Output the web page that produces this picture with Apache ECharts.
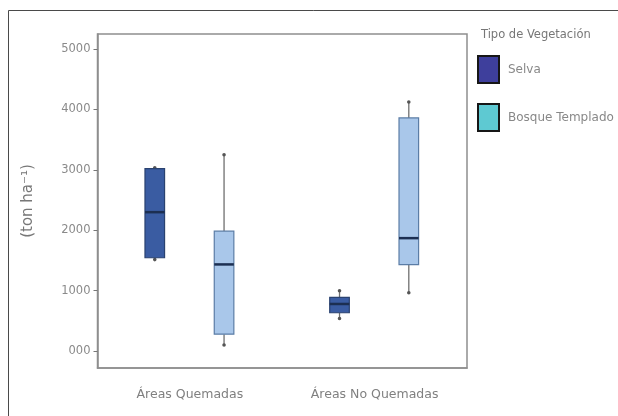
<!DOCTYPE html>
<html>
<head>
<meta charset="utf-8">
<script src="https://cdn.jsdelivr.net/npm/echarts@6/dist/echarts.min.js"></script>
<style>html,body{margin:0;padding:0;background:#fff}#c{width:618px;height:416px}</style>
</head>
<body>
<div id="c"></div>
<script>
const categories = ['Áreas Quemadas', 'Áreas No Quemadas'];
const seriesNames = ['Selva', 'Bosque Templado'];
// [categoryIndex, min, Q1, median, Q3, max]
const selvaBoxes = [
  [0, 1515, 1545, 2300, 3020, 3035],
  [1, 540, 635, 780, 890, 1000]
];
const bosqueBoxes = [
  [0, 100, 280, 1435, 1985, 3250],
  [1, 965, 1430, 1870, 3860, 4125]
];
const tickValues = [0, 1000, 2000, 3000, 4000, 5000];
const tickLabels = ['000', '1000', '2000', '3000', '4000', '5000'];

const FONT = '"DejaVu Sans", sans-serif';

function makeRender(offset, fill, border) {
  return function (params, api) {
    const cat = api.value(0);
    const band = api.size([1, 0])[0];
    const xc = api.coord([cat, 0])[0] + offset * band;
    const w = 0.106 * band;
    const yMin = api.coord([cat, api.value(1)])[1];
    const yQ1 = api.coord([cat, api.value(2)])[1];
    const yMed = api.coord([cat, api.value(3)])[1];
    const yQ3 = api.coord([cat, api.value(4)])[1];
    const yMax = api.coord([cat, api.value(5)])[1];
    const wh = {stroke: '#707070', lineWidth: 1.3};
    return {
      type: 'group',
      children: [
        {type: 'line', shape: {x1: xc, y1: yQ3, x2: xc, y2: yMax}, style: wh},
        {type: 'line', shape: {x1: xc, y1: yQ1, x2: xc, y2: yMin}, style: wh},
        {type: 'circle', shape: {cx: xc, cy: yMax, r: 1.8}, style: {fill: '#555'}},
        {type: 'circle', shape: {cx: xc, cy: yMin, r: 1.8}, style: {fill: '#555'}},
        {type: 'rect', shape: {x: xc - w / 2, y: yQ3, width: w, height: yQ1 - yQ3},
          style: {fill: fill, stroke: border, lineWidth: 1.2}},
        {type: 'line', shape: {x1: xc - w / 2, y1: yMed, x2: xc + w / 2, y2: yMed},
          style: {stroke: '#1c2f52', lineWidth: 2.5}}
      ]
    };
  };
}

const chart = echarts.init(document.getElementById('c'));
chart.setOption({
  animation: false,
  backgroundColor: '#fff',
  textStyle: {fontFamily: FONT},
  graphic: [{
    type: 'rect', silent: true,
    shape: {x: 8.5, y: 10.5, width: 700, height: 500},
    style: {fill: 'none', stroke: '#4a4a4a', lineWidth: 1}
  }],
  title: {
    text: 'Tipo de Vegetación', left: 476, top: 24,
    textStyle: {fontSize: 11.5, fontWeight: 'normal', color: '#777', fontFamily: FONT}
  },
  legend: {
    orient: 'vertical', left: 472, top: 50,
    itemWidth: 21, itemHeight: 27, itemGap: 19,
    icon: 'rect',
    textStyle: {fontSize: 12, color: '#888', fontFamily: FONT, padding: [0, 0, 0, 4]},
    data: [
      {name: seriesNames[0], itemStyle: {color: '#3e3f9c', borderColor: '#161616', borderWidth: 2}},
      {name: seriesNames[1], itemStyle: {color: '#5ec9d2', borderColor: '#161616', borderWidth: 2}}
    ]
  },
  grid: {left: 97.5, right: 151, top: 34, bottom: 48, show: true, borderColor: '#8e8e8e', borderWidth: 1.5},
  xAxis: {
    type: 'category', data: categories,
    axisLine: {onZero: false, lineStyle: {color: '#8e8e8e', width: 1.5}},
    axisTick: {alignWithLabel: true, length: 3, lineStyle: {color: '#777'}},
    axisLabel: {fontSize: 12.5, color: '#808080', margin: 20, fontFamily: FONT},
    splitLine: {show: false}
  },
  yAxis: {
    type: 'value', min: -280, max: 5250,
    name: '(ton ha⁻¹)', nameLocation: 'middle', nameGap: 62, nameRotate: 90,
    nameTextStyle: {fontSize: 15, color: '#777', fontFamily: FONT},
    axisLine: {show: true, lineStyle: {color: '#8e8e8e', width: 1.5}},
    axisTick: {show: true, length: 4, customValues: tickValues, lineStyle: {color: '#777'}},
    axisLabel: {
      fontSize: 11.5, color: '#8a8a8a', margin: 7, fontFamily: FONT,
      customValues: tickValues,
      formatter: function (v) { return tickLabels[tickValues.indexOf(v)]; }
    },
    splitLine: {show: false}
  },
  series: [
    {
      name: seriesNames[0], type: 'custom', data: selvaBoxes,
      renderItem: makeRender(-0.19, '#3a5ca2', '#2a4270'),
      itemStyle: {color: '#3e3f9c'},
      encode: {x: 0, y: [1, 2, 3, 4, 5]}
    },
    {
      name: seriesNames[1], type: 'custom', data: bosqueBoxes,
      renderItem: makeRender(0.185, '#a9c7ea', '#5b7da6'),
      itemStyle: {color: '#5ec9d2'},
      encode: {x: 0, y: [1, 2, 3, 4, 5]}
    }
  ]
});
</script>
</body>
</html>
